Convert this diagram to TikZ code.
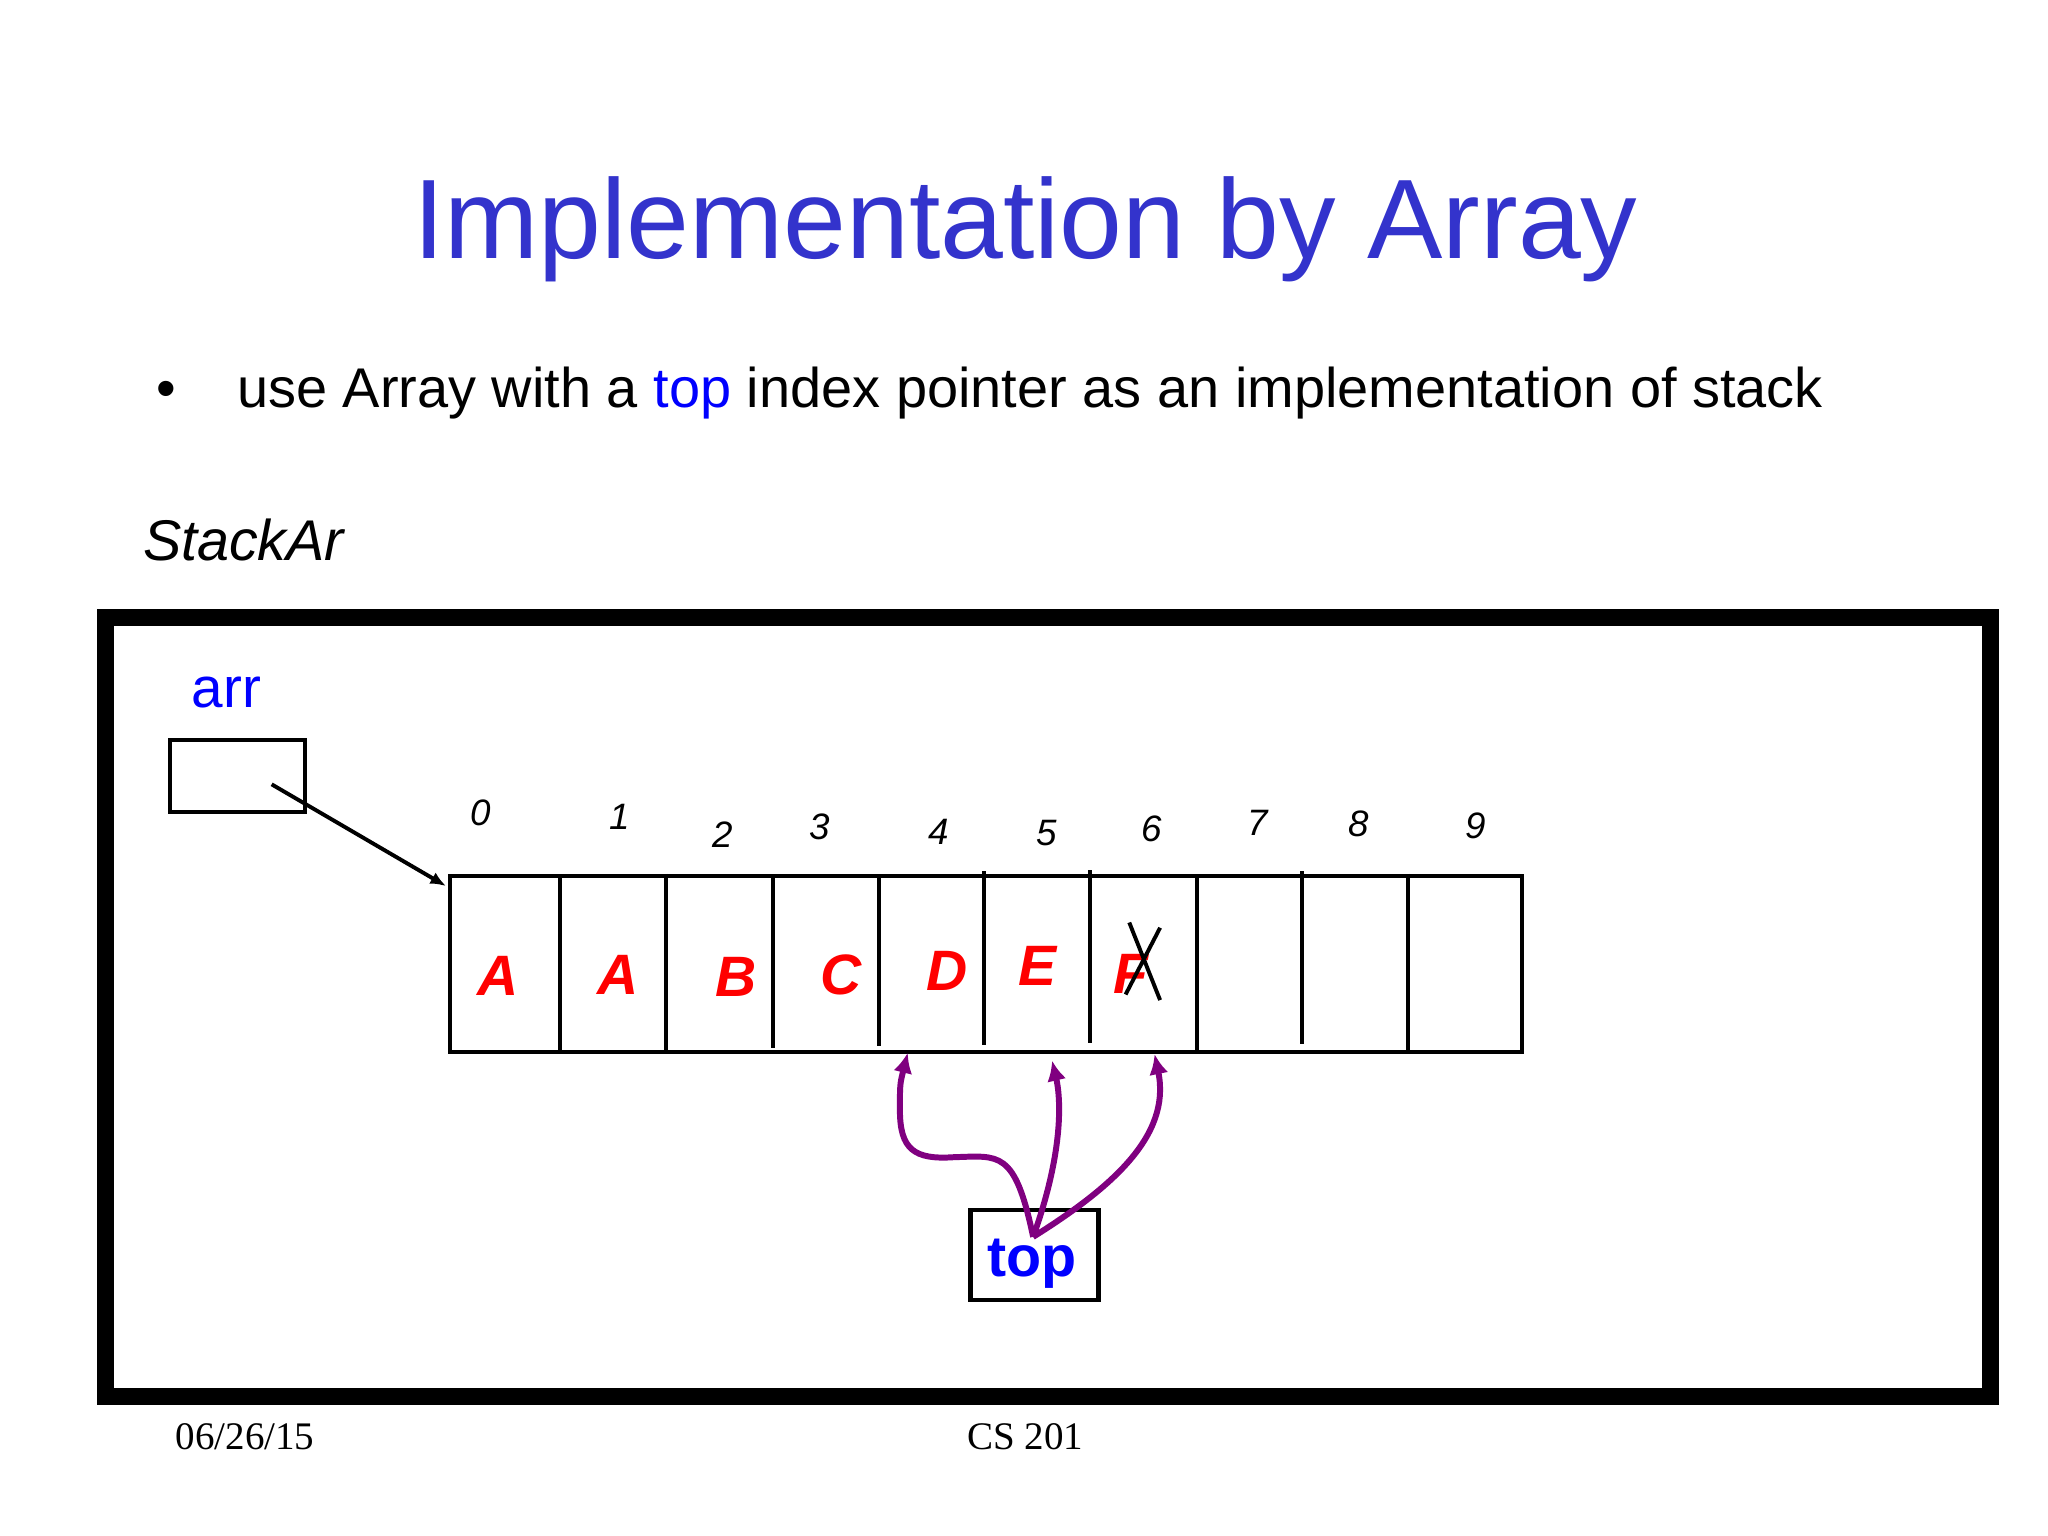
\documentclass[tikz,border=0pt]{standalone}
\usepackage{fontspec}
\usetikzlibrary{arrows.meta}
\setmainfont{Liberation Sans}
\newfontfamily\footfont{Liberation Serif}
\definecolor{titleblue}{RGB}{51,51,204}
\definecolor{arrowpurple}{RGB}{128,0,128}
\begin{document}
\begin{tikzpicture}[x=0.01cm,y=-0.01cm,>={Latex[length=3.4pt,width=2.8pt]},line width=0.85pt,
		lbl/.style={inner sep=0pt,anchor=base},
		idx/.style={lbl,font=\fontsize{8}{9}\selectfont\itshape},
		val/.style={lbl,text=red,font=\fontsize{12.4}{14}\selectfont\bfseries\itshape},
		ptr/.style={-{Latex[length=4.4pt,width=4.2pt]},arrowpurple,line width=1.3pt}]
	\useasboundingbox (0,0) rectangle (1568,1176);
	% heading
	\node[lbl,text=titleblue,font=\fontsize{24.6}{29}\selectfont] (title) at (785,198.3) {Implementation by Array};
	\node[lbl,font=\fontsize{12.2}{14}\selectfont] (dot) at (127,312) {•};
	\node[lbl,anchor=base west,font=\fontsize{12.18}{14}\selectfont] (line) at (180,312) {use Array with a \textcolor{blue}{top} index pointer as an implementation of stack};
	\node[lbl,anchor=base west,font=\fontsize{12.5}{15}\selectfont\itshape] (name) at (108,429.5) {StackAr};
	% object frame
	\draw[line width=3.7pt] (80.4,473) rectangle (1524,1069.5);
	\node[lbl,anchor=base west,text=blue,font=\fontsize{12.35}{15}\selectfont] (arrlbl) at (145.5,542) {arr};
	\node[draw,inner sep=0pt,minimum width=1.03cm,minimum height=0.55cm,anchor=north west] (arrbox) at (129,565) {};
	% array cells
	\node[draw,inner sep=0pt,minimum width=8.2cm,minimum height=1.35cm,anchor=north west] (cells) at (343,669) {};
	\foreach \x/\a/\b in {428.8/671.7/804,510.1/669/804,591.5/670/802,672.8/670/800.8,753.6/667.1/800,834.3/666.3/798.7,916.2/672.5/804,996.5/667/799.4,1077.8/669/804}
		\draw (\x,\a) -- (\x,\b);
	\foreach \i/\x/\y in {0/368.2/631.7,1/474.8/635.2,2/553.3/648.5,3/627.9/642.4,4/718.8/646.4,5/801.3/647.7,6/881.5/644.5,7/962.8/639.7,8/1040.2/640.5,9/1130/641.8}
		\node[idx] (i\i) at (\x,\y) {\i};
	\foreach \n/\v/\x/\y in {0/A/381.7/762.2,1/A/473.4/761.4,2/B/563.2/762.7,3/C/643.9/761.4,4/D/725.2/758.2,5/E/794/754.2,6/F/866/760.3}
		\node[val] (v\n) at (\x,\y) {\v};
	\draw (864.6,706.3) -- (888.2,765.7) (888.2,710.3) -- (861.8,761.4);
	% arr pointer
	\coordinate (ptr) at (208,600.5);
	\coordinate (head) at (341.5,678.4);
	\draw[->] (ptr) -- (head);
	% top pointer
	\node[draw,line width=1pt,inner sep=0pt,minimum width=0.98cm,minimum height=0.69cm,anchor=north west] (topbox) at (741.2,924.6) {};
	\node[lbl,text=blue,font=\fontsize{12.5}{15}\selectfont\bfseries] (toptxt) at (790,977) {top};
	\coordinate (src) at (791,947);
	\coordinate (t4) at (695,806);
	\coordinate (t5) at (805.5,812);
	\coordinate (t6) at (884,807);
	\draw[ptr] (src) .. controls (777,880) and (765,885) .. (730,886) .. controls (700,888) and (689,880) .. (689,850) .. controls (689,830) .. (t4);
	\draw[ptr] (src) .. controls (815,880) and (812,840) .. (t5);
	\draw[ptr] (src) .. controls (850,910) and (897,870) .. (t6);
	% footer
	\node[lbl,anchor=base west,font=\footfont\fontsize{8.5}{10}\selectfont] (date) at (133,1110) {06/26/15};
	\node[lbl,anchor=base west,font=\footfont\fontsize{8.5}{10}\selectfont] (course) at (739,1110) {CS 201};
\end{tikzpicture}
\end{document}
